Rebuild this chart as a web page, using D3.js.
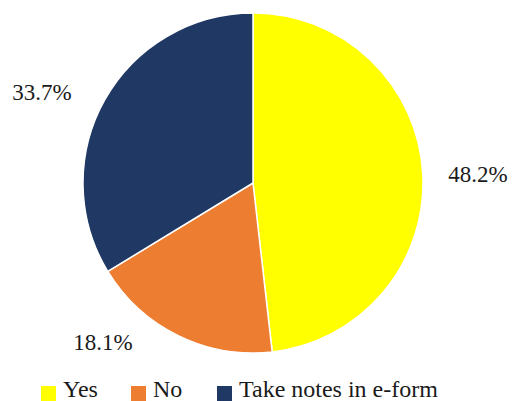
<!DOCTYPE html>
<html><head><meta charset="utf-8">
<script src="https://cdn.jsdelivr.net/npm/d3@7"></script>
<style>body{margin:0;background:#fff}svg{display:block}text{font-family:"Liberation Serif","DejaVu Serif","Times New Roman",serif}</style>
</head><body>
<svg id="c" width="517" height="401"></svg>
<script>
const categories = ["Yes", "No", "Take notes in e-form"];
const values = [48.2, 18.1, 33.7];
const valueLabels = ["48.2%", "18.1%", "33.7%"];
const colors = ["#FFFF00", "#ED7D31", "#203864"];

const svg = d3.select("#c");
const cx = 253, cy = 183, r = 170;

const pie = d3.pie().sort(null).value(d => d.v);
const data = categories.map((c, i) => ({c, v: values[i], lab: valueLabels[i], col: colors[i]}));
const arcs = pie(data);
const arc = d3.arc().innerRadius(0).outerRadius(r);

const g = svg.append("g").attr("transform", `translate(${cx},${cy})`);
g.selectAll("path").data(arcs).join("path")
  .attr("d", arc)
  .attr("fill", d => d.data.col)
  .attr("stroke", "#fff").attr("stroke-width", 1.5);

const labelPos = [[225, -9], [-150, 159], [-211, -91]];
g.selectAll("text.lab").data(arcs).join("text")
  .attr("class", "lab")
  .attr("x", (d, i) => labelPos[i][0])
  .attr("y", (d, i) => labelPos[i][1])
  .attr("text-anchor", "middle")
  .attr("dominant-baseline", "central")
  .attr("font-size", 23).attr("fill", "#1a1a1a")
  .text(d => d.data.lab);

const legX = [41, 131, 217];
const lg = svg.append("g");
data.forEach((d, i) => {
  lg.append("rect").attr("x", legX[i]).attr("y", 386).attr("width", 15).attr("height", 15).attr("fill", d.col);
  lg.append("text").attr("x", legX[i] + 22).attr("y", 397)
    .attr("font-size", 24).attr("fill", "#1a1a1a")
    .text(d.c);
});
</script>
</body></html>
